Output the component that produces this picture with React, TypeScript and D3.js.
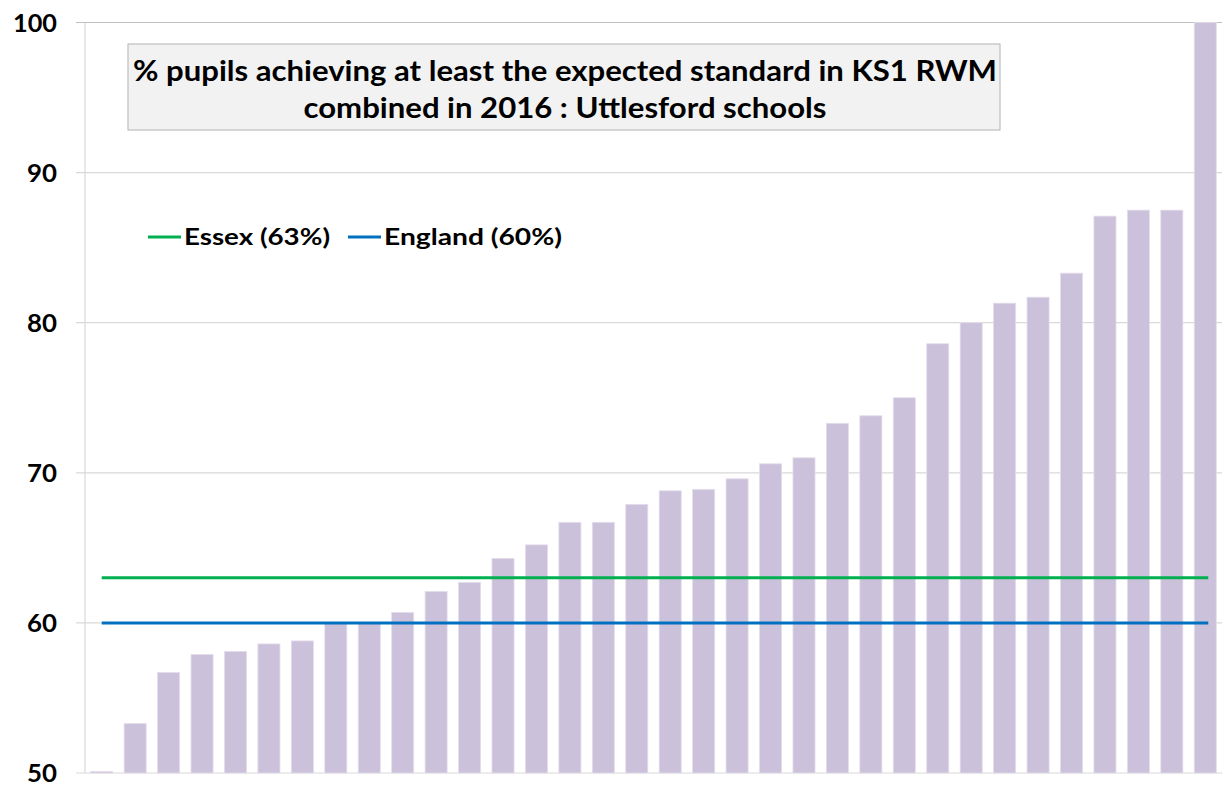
import React from 'react'
import * as d3 from 'd3'

// % pupils achieving expected standard in KS1 RWM, Uttlesford schools (sorted)
const schools: string[] = d3.range(1, 35).map((i) => `School ${i}`)
const values: number[] = [
  50.0, 53.3, 56.7, 57.9, 58.1, 58.6, 58.8, 60.0, 60.0, 60.7,
  62.1, 62.7, 64.3, 65.2, 66.7, 66.7, 67.9, 68.8, 68.9, 69.6,
  70.6, 71.0, 73.3, 73.8, 75.0, 78.6, 80.0, 81.3, 81.7, 83.3,
  87.1, 87.5, 87.5, 100.0,
]
const yTicks: number[] = [50, 60, 70, 80, 90, 100]
const benchmarks = [
  { label: 'Essex (63%)', value: 63, color: '#00B050' },
  { label: 'England (60%)', value: 60, color: '#0070C0' },
]
const titleLines: string[] = [
  '% pupils achieving at least the expected standard in KS1 RWM',
  'combined in 2016 : Uttlesford schools',
]

const W = 1222
const H = 786
const font = 'Lato, "Open Sans", sans-serif'

export default function App() {
  /* scales */
  const x = d3.scaleBand<string>().domain(schools).range([85, 1222]).paddingInner(0.34).paddingOuter(0.17)
  const y = d3.scaleLinear().domain([50, 100]).range([773, 22.5])
  const first = (x(schools[0]) ?? 0) + x.bandwidth() / 2
  const last = (x(schools[schools.length - 1]) ?? 0) + x.bandwidth() / 2

  return (
    <svg width={W} height={H} style={{ position: 'absolute', left: 0, top: 0, background: '#fff' }}>
      {/* grid + ticks */}
      {yTicks.map((t) => (
        <g key={t}>
          <line x1={76} x2={W} y1={y(t)} y2={y(t)} stroke={t === 100 ? '#BFBFBF' : '#D9D9D9'} strokeWidth={1.2} />
          <text x={57} y={y(t)} dy="0.36em" textAnchor="end" fontFamily={font} fontWeight={700} fontSize={25}
            textLength={t === 100 ? 44 : 30} lengthAdjust="spacingAndGlyphs" fill="#000">
            {t}
          </text>
        </g>
      ))}
      <line x1={85} x2={85} y1={y(100)} y2={y(50)} stroke="#D9D9D9" strokeWidth={1.2} />

      {/* bars */}
      {values.map((v, i) => {
        const top = y(v)
        const h = Math.max(1.5, y(50) - top)
        return (
          <rect
            key={i}
            x={x(schools[i])}
            y={y(50) - h}
            width={x.bandwidth()}
            height={h}
            fill="#CCC1DA"
            stroke="#E4DEEC"
            strokeWidth={0.8}
          />
        )
      })}

      {/* benchmark lines */}
      {benchmarks.map((b) => (
        <line key={b.label} x1={first} x2={last + 3} y1={y(b.value)} y2={y(b.value)} stroke={b.color} strokeWidth={3} />
      ))}

      {/* title box */}
      <rect x={128} y={44} width={872} height={86} fill="#F2F2F2" stroke="#BFBFBF" strokeWidth={1.2} />
      {titleLines.map((t, i) => (
        <text
          key={t}
          x={565}
          y={81 + i * 37}
          textAnchor="middle"
          fontFamily={font}
          fontWeight={700}
          fontSize={28}
          textLength={i === 0 ? 864 : 523}
          lengthAdjust="spacingAndGlyphs"
          fill="#000"
        >
          {t}
        </text>
      ))}

      {/* legend */}
      {benchmarks.map((b, i) => {
        const lx = i === 0 ? 148 : 348
        return (
          <g key={b.label}>
            <line x1={lx} x2={lx + 33} y1={237} y2={237} stroke={b.color} strokeWidth={3} />
            <text
              x={lx + 36}
              y={237}
              dy="0.36em"
              fontFamily={font}
              fontWeight={700}
              fontSize={23}
              textLength={i === 0 ? 146 : 178}
              lengthAdjust="spacingAndGlyphs"
              fill="#000"
            >
              {b.label}
            </text>
          </g>
        )
      })}
    </svg>
  )
}
